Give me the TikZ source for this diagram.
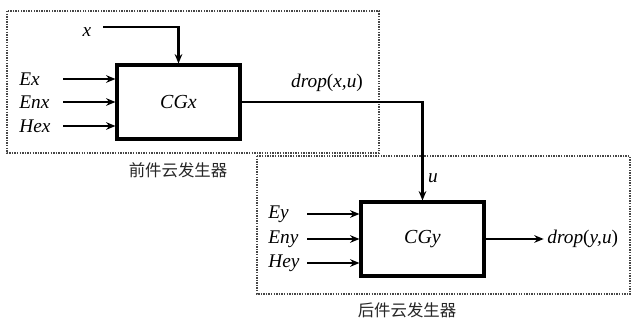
\documentclass[tikz,border=0pt]{standalone}
\usepackage{fontspec}
\setmainfont{Liberation Serif}
\newfontfamily\cjk{Noto Sans CJK SC}
\usetikzlibrary{arrows.meta,positioning}
\definecolor{framegray}{RGB}{70,70,70}

\begin{document}
\begin{tikzpicture}[x=0.03cm,y=-0.03cm,
    block/.style={draw,line width=2.6pt,minimum width=3.69cm,minimum height=2.22cm,font=\fontsize{17}{19}\selectfont\itshape},
    arr/.style={-{Stealth[length=8pt,width=6.5pt]},line width=2pt},
    frame/.style={draw=framegray,densely dotted,line width=1.2pt},
    lbl/.style={font=\fontsize{16.5}{19}\selectfont\itshape,inner sep=1pt},
    caption/.style={font=\fontsize{14}{16}\selectfont\cjk,text=black!85}]
    \useasboundingbox (0,0) rectangle (633,320);

    % Frames
    \draw[frame] (7,11) rectangle (379,153);
    \draw[frame] (257,156) rectangle (630,294);
    \node[caption] (capx) at (178,170) {前件云发生器};
    \node[caption] (capy) at (407,310) {后件云发生器};

    % Blocks
    \node[block] (cgx) at (178.5,102) {CGx};
    \node[block] (cgy) at (422.5,239) {CGy};

    % Inputs of CGx
    \node[lbl,anchor=west] (ex) at (18,79) {Ex};
    \node[lbl,anchor=west] (enx) at (18,102) {Enx};
    \node[lbl,anchor=west] (hex) at (18,126) {Hex};
    \foreach \n in {ex,enx,hex}
        \draw[arr] (63,0 |- \n) -- (cgx.west |- \n);
    \node[lbl] (x) at (87,32) {x};
    \coordinate (xin) at (103,27);
    \draw[arr] (xin) -| (cgx.north);

    % Inputs of CGy
    \node[lbl,anchor=west] (ey) at (267,214) {Ey};
    \node[lbl,anchor=west] (eny) at (267,239) {Eny};
    \node[lbl,anchor=west] (hey) at (267,263) {Hey};
    \foreach \n in {ey,eny,hey}
        \draw[arr] (307,0 |- \n) -- (cgy.west |- \n);

    % Connection and output
    \draw[arr] (cgx.east) -| (cgy.north);
    \node[lbl] (dropx) at (327,83) {drop\textup{(}x,u\textup{)}};
    \node[lbl] (u) at (433,178) {u};
    \node[lbl,anchor=west] (dropy) at (546,239) {drop\textup{(}y,u\textup{)}};
    \draw[arr] (cgy.east) -- ([xshift=-2pt]dropy.west);
\end{tikzpicture}
\end{document}
